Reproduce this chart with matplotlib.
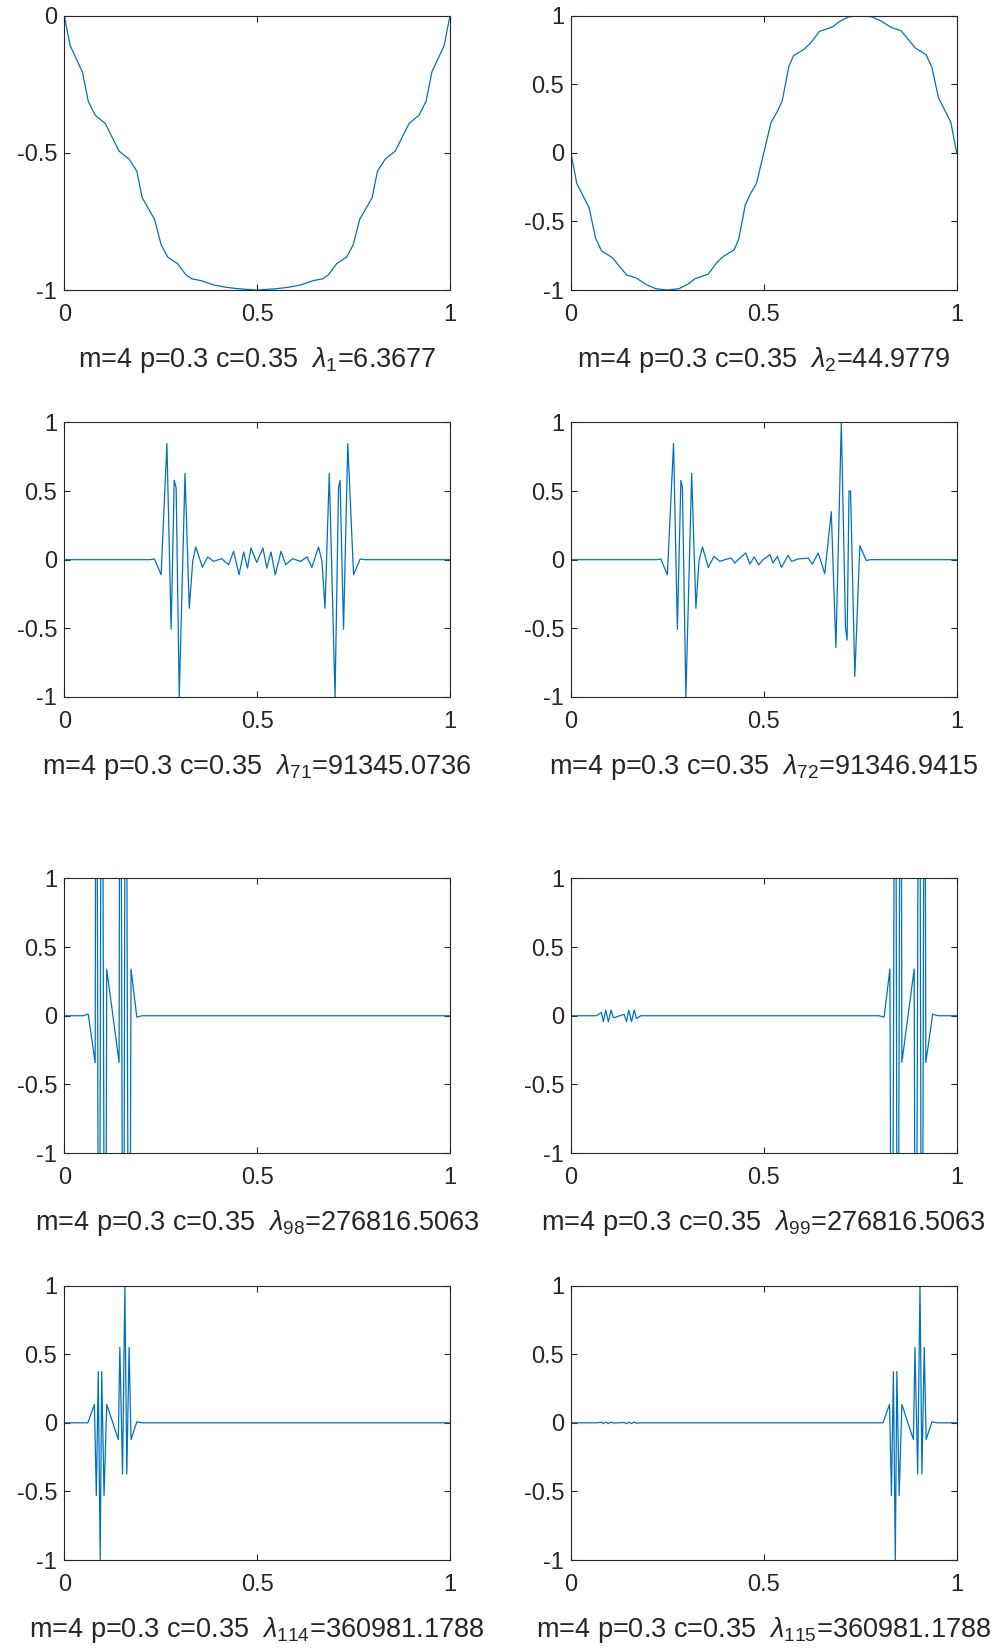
import numpy as np
import matplotlib
matplotlib.use('Agg')
import matplotlib.pyplot as plt

plt.rcParams['font.family'] = ['Liberation Sans', 'DejaVu Sans']
plt.rcParams['mathtext.fontset'] = 'custom'
plt.rcParams['mathtext.rm'] = 'Liberation Sans'
plt.rcParams['mathtext.it'] = 'Liberation Sans:italic'
plt.rcParams['axes.unicode_minus'] = False

# eigenvector shapes (x in [0,1], normalised amplitude)
x1 = [0, 0.015, 0.047, 0.062, 0.080, 0.106, 0.142, 0.168, 0.188, 0.202, 0.234, 0.251, 0.268, 0.294,
      0.315, 0.330, 0.356, 0.386, 0.42, 0.45, 0.5, 0.55, 0.58, 0.614, 0.644, 0.670, 0.685, 0.706,
      0.732, 0.749, 0.766, 0.798, 0.812, 0.832, 0.858, 0.894, 0.920, 0.938, 0.953, 0.985, 1.0]
y1 = [0, -0.109, -0.206, -0.312, -0.363, -0.393, -0.494, -0.523, -0.567, -0.664, -0.742, -0.835,
      -0.880, -0.904, -0.944, -0.959, -0.966, -0.981, -0.99, -0.995, -1.0, -0.995, -0.99, -0.981,
      -0.966, -0.959, -0.944, -0.904, -0.880, -0.835, -0.742, -0.664, -0.567, -0.523, -0.494,
      -0.393, -0.363, -0.312, -0.206, -0.109, 0]

x2 = [0, 0.015, 0.047, 0.064, 0.079, 0.107, 0.144, 0.170, 0.196, 0.22, 0.25, 0.28, 0.304, 0.321,
      0.356, 0.377, 0.395, 0.423, 0.435, 0.452, 0.466, 0.481, 0.5, 0.519, 0.534, 0.548, 0.565,
      0.577, 0.605, 0.623, 0.644, 0.679, 0.696, 0.72, 0.75, 0.78, 0.804, 0.830, 0.856, 0.893,
      0.921, 0.936, 0.953, 0.985, 1.0]
y2 = [0, -0.223, -0.40, -0.622, -0.714, -0.763, -0.889, -0.913, -0.961, -0.99, -1.0, -0.99, -0.956,
      -0.918, -0.884, -0.804, -0.755, -0.707, -0.630, -0.380, -0.295, -0.223, 0, 0.223, 0.295,
      0.380, 0.630, 0.707, 0.755, 0.804, 0.884, 0.918, 0.956, 0.99, 1.0, 0.99, 0.961, 0.913,
      0.889, 0.763, 0.714, 0.622, 0.40, 0.223, 0]

x3 = [0, 0.222, 0.234, 0.251, 0.266, 0.277, 0.285, 0.290, 0.298, 0.313, 0.324, 0.333, 0.341, 0.358,
      0.372, 0.387, 0.408, 0.426, 0.439, 0.453, 0.465, 0.475, 0.484, 0.499, 0.515, 0.525, 0.536,
      0.547, 0.562, 0.574, 0.592, 0.613, 0.629, 0.642, 0.659, 0.668, 0.676, 0.687, 0.702, 0.711,
      0.715, 0.724, 0.735, 0.750, 0.767, 0.780, 1.0]
y3 = [0, 0, 0.005, -0.11, 0.846, -0.507, 0.578, 0.524, -1.0, 0.629, -0.354, -0.01, 0.093, -0.056,
      0.02, -0.012, 0.007, -0.037, 0.061, -0.11, 0.056, -0.061, 0.085, -0.02, 0.085, -0.061, 0.056,
      -0.11, 0.061, -0.037, 0.007, -0.012, 0.02, -0.056, 0.093, -0.01, -0.354, 0.629, -1.0, 0.524,
      0.578, -0.507, 0.846, -0.11, 0.005, 0, 0]

x4 = [0, 0.222, 0.233, 0.250, 0.266, 0.276, 0.285, 0.289, 0.298, 0.313, 0.324, 0.332, 0.341, 0.356,
      0.371, 0.386, 0.399, 0.415, 0.425, 0.436, 0.453, 0.464, 0.475, 0.487, 0.498, 0.516, 0.524,
      0.535, 0.546, 0.563, 0.572, 0.589, 0.615, 0.626, 0.641, 0.651, 0.658, 0.675, 0.687, 0.701,
      0.712, 0.716, 0.721, 0.725, 0.736, 0.749, 0.766, 0.775, 1.0]
y4 = [0, 0, 0.005, -0.11, 0.846, -0.507, 0.578, 0.524, -1.0, 0.629, -0.354, -0.01, 0.093, -0.056,
      0.024, -0.012, 0, 0.012, -0.024, 0.007, 0.049, -0.032, 0.02, -0.037, 0, 0.037, -0.024, 0.024,
      -0.056, 0.032, -0.012, 0.005, 0.012, -0.032, 0.049, -0.037, -0.102, 0.349, -0.641, 1.0,
      -0.50, -0.585, 0.5, 0.5, -0.85, 0.102, -0.007, 0, 0]

x5 = [0, 0.049, 0.062, 0.080, 0.083, 0.090, 0.097, 0.106, 0.110, 0.142, 0.145, 0.153, 0.159, 0.168,
      0.173, 0.188, 0.202, 1.0]
y5 = [0, 0, 0.012, -0.342, 4, -4, 4, -4, 0.34, -0.34, 4, -4, 4, -4, 0.34, -0.01, 0, 0]

x6 = [0, 0.066, 0.079, 0.084, 0.090, 0.097, 0.104, 0.110, 0.138, 0.144, 0.150, 0.157, 0.164, 0.170,
      0.181, 0.798, 0.812, 0.827, 0.832, 0.841, 0.847, 0.855, 0.858, 0.890, 0.894, 0.903, 0.910,
      0.917, 0.920, 0.938, 0.951, 1.0]
y6 = [0, 0, 0.024, -0.044, 0.041, -0.044, 0.041, -0.015, 0.01, -0.044, 0.041, -0.044, 0.041, -0.02,
      0, 0, -0.01, 0.34, -4, 4, -4, 4, -0.34, 0.34, -4, 4, -4, 4, -0.342, 0.012, 0, 0]

x7 = [0, 0.061, 0.078, 0.083, 0.088, 0.093, 0.097, 0.103, 0.110, 0.140, 0.144, 0.151, 0.157, 0.162,
      0.168, 0.173, 0.188, 0.202, 1.0]
y7 = [0, 0, 0.134, -0.53, 0.373, -1.0, 0.373, -0.53, 0.134, -0.122, 0.549, -0.373, 1.0, -0.373,
      0.549, -0.122, 0.007, 0, 0]

x8 = [0, 0.066, 0.079, 0.084, 0.090, 0.097, 0.104, 0.110, 0.138, 0.144, 0.150, 0.157, 0.164, 0.170,
      0.181, 0.809, 0.826, 0.831, 0.836, 0.841, 0.845, 0.851, 0.858, 0.888, 0.892, 0.899, 0.905,
      0.910, 0.916, 0.921, 0.936, 0.950, 1.0]
y8 = [0, 0, 0.004, -0.006, 0.005, -0.006, 0.005, -0.002, 0.002, -0.006, 0.005, -0.006, 0.005, -0.003,
      0, 0, 0.134, -0.53, 0.373, -1.0, 0.373, -0.53, 0.134, -0.122, 0.549, -0.373, 1.0, -0.373,
      0.549, -0.122, 0.007, 0, 0]

indices = ['1', '2', '71', '72', '98', '99', '114', '115']
eigenvalues = ['6.3677', '44.9779', '91345.0736', '91346.9415',
               '276816.5063', '276816.5063', '360981.1788', '360981.1788']
xs = [x1, x2, x3, x4, x5, x6, x7, x8]
ys = [y1, y2, y3, y4, y5, y6, y7, y8]

fig = plt.figure(figsize=(9.94, 16.5), dpi=100)
lefts = [0.0647, 0.5744]
bottoms = [0.8242, 0.5776, 0.3012, 0.0545]
w, h = 0.388, 0.1664
axcol = '#262626'

for i in range(8):
    r, c = i // 2, i % 2
    ax = fig.add_axes([lefts[c], bottoms[r], w, h])
    ax.plot(xs[i], ys[i], color='#0072BD', lw=0.9)
    ax.set_xlim(0, 1)
    ax.set_xticks([0, 0.5, 1])
    ax.set_xticklabels(['0', '0.5', '1'])
    if i == 0:
        # first mode stays below zero
        ax.set_ylim(-1, 0)
        ax.set_yticks([-1, -0.5, 0])
        ax.set_yticklabels(['-1', '-0.5', '0'])
    else:
        ax.set_ylim(-1, 1)
        ax.set_yticks([-1, -0.5, 0, 0.5, 1])
        ax.set_yticklabels(['-1', '-0.5', '0', '0.5', '1'])
    ax.tick_params(direction='in', top=True, right=True, length=4, width=0.8,
                   labelsize=17, colors=axcol)
    ax.tick_params(axis='x', pad=10)
    ax.tick_params(axis='y', pad=5)
    for s in ax.spines.values():
        s.set_color(axcol)
        s.set_linewidth(0.8)
    ax.set_xlabel('m=4 p=0.3 c=0.35  ' + r'$\lambda_{\mathrm{' + indices[i] + '}}$=' + eigenvalues[i],
                  fontsize=19.5, color=axcol, labelpad=14)

fig.savefig('out.png', dpi=100)
